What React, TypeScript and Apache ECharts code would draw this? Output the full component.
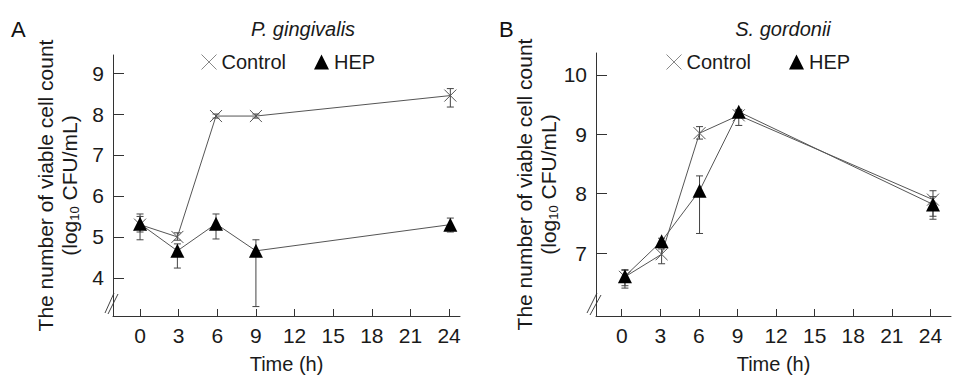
import React, { useEffect, useRef } from "react";
import * as echarts from "echarts";

// ---- data ----
const timeTicks = [0, 3, 6, 9, 12, 15, 18, 21, 24];
const yTicksA = [4, 5, 6, 7, 8, 9];
const yTicksB = [7, 8, 9, 10];

const timesA = [0, 2.9, 5.9, 9, 24.1];
const controlA = [5.3, 5.0, 7.95, 7.95, 8.45];
const controlLowA = [5.12, 4.92, 7.9, 7.9, 8.17];
const controlHighA = [5.5, 5.1, 8.0, 8.0, 8.62];
const hepA = [5.32, 4.66, 5.32, 4.66, 5.3];
const hepLowA = [4.93, 4.24, 4.95, 3.3, 5.12];
const hepHighA = [5.56, 4.83, 5.56, 4.93, 5.46];

const timesB = [0.25, 3.1, 6.05, 9.1, 24.2];
const controlB = [6.6, 6.98, 9.02, 9.32, 7.9];
const controlLowB = [6.45, 6.82, 8.92, 9.15, 7.62];
const controlHighB = [6.72, 7.07, 9.13, 9.4, 8.05];
const hepB = [6.61, 7.2, 8.05, 9.38, 7.82];
const hepLowB = [6.41, 7.1, 7.33, 9.3, 7.57];
const hepHighB = [6.71, 7.25, 8.3, 9.42, 7.95];

const FONT = "'Liberation Sans', Arial, sans-serif";
const CROSS = "path://M0,0L10,10M10,0L0,10";

const pairs = (xs: number[], ys: number[]) => xs.map((x, i) => [x, ys[i]]);
const triples = (xs: number[], lo: number[], hi: number[]) =>
  xs.map((x, i) => [x, lo[i], hi[i]]);

const errRender = (params: any, api: any) => {
  const x = api.value(0);
  const lo = api.coord([x, api.value(1)]);
  const hi = api.coord([x, api.value(2)]);
  const w = 3.5;
  const st = { stroke: "#444", lineWidth: 1 };
  return {
    type: "group",
    children: [
      { type: "line", shape: { x1: lo[0], y1: lo[1], x2: hi[0], y2: hi[1] }, style: st },
      { type: "line", shape: { x1: lo[0] - w, y1: lo[1], x2: lo[0] + w, y2: lo[1] }, style: st },
      { type: "line", shape: { x1: hi[0] - w, y1: hi[1], x2: hi[0] + w, y2: hi[1] }, style: st },
    ],
  };
};

const xAxisFor = (gridIndex: number, min: number, max: number) => ({
  type: "value",
  gridIndex,
  min,
  max,
  name: "Time (h)",
  nameLocation: "middle",
  nameGap: 38,
  nameTextStyle: { fontFamily: FONT, fontSize: 20, color: "#1a1a1a" },
  axisLine: { show: true, onZero: false, lineStyle: { color: "#333", width: 1 } },
  axisTick: { show: true, inside: true, length: 7, customValues: timeTicks, lineStyle: { color: "#333" } },
  axisLabel: { customValues: timeTicks, margin: 9, fontFamily: FONT, fontSize: 21, color: "#1a1a1a" },
  splitLine: { show: false },
});

const yName =
  "{a|The number of viable cell count}\n{a|(log}{s|10}{a| CFU/mL)}";

const yAxisFor = (gridIndex: number, min: number, max: number, ticks: number[]) => ({
  type: "value",
  gridIndex,
  min,
  max,
  name: yName,
  nameLocation: "middle",
  nameRotate: 90,
  nameGap: 32,
  nameTextStyle: {
    fontFamily: FONT,
    color: "#1a1a1a",
    rich: {
      a: { fontFamily: FONT, fontSize: 21, color: "#1a1a1a", lineHeight: 24 },
      s: { fontFamily: FONT, fontSize: 13, color: "#1a1a1a", lineHeight: 24, padding: [10, 0, 0, 0] },
    },
  },
  axisLine: { show: true, onZero: false, lineStyle: { color: "#333", width: 1 } },
  axisTick: { show: true, inside: true, length: 11, customValues: ticks, lineStyle: { color: "#333" } },
  axisLabel: { customValues: ticks, margin: 9, fontFamily: FONT, fontSize: 21, color: "#1a1a1a" },
  splitLine: { show: false },
});

const lineSeries = (name: string, idx: number, data: number[][], isCtrl: boolean) => ({
  name,
  type: "line",
  xAxisIndex: idx,
  yAxisIndex: idx,
  data,
  symbol: isCtrl ? CROSS : "triangle",
  symbolSize: isCtrl ? 12 : 14,
  showSymbol: true,
  lineStyle: { color: "#555", width: 1 },
  itemStyle: isCtrl
    ? { color: "rgba(0,0,0,0)", borderColor: "#555", borderWidth: 1 }
    : { color: "#000", borderColor: "#000", borderWidth: 0 },
  z: isCtrl ? 3 : 4,
});

const errSeries = (idx: number, data: number[][]) => ({
  type: "custom",
  xAxisIndex: idx,
  yAxisIndex: idx,
  data,
  encode: { x: 0, y: [1, 2] },
  renderItem: errRender,
  silent: true,
  z: 2,
});

const legendFor = (left: number, gap: number) => ({
  left,
  top: 47,
  itemWidth: 15,
  itemHeight: 15,
  itemGap: gap,
  textStyle: { fontFamily: FONT, fontSize: 20, color: "#1a1a1a" },
  data: [
    { name: "Control", icon: CROSS, itemStyle: { color: "rgba(0,0,0,0)", borderColor: "#888", borderWidth: 1 } },
    { name: "HEP", icon: "triangle", itemStyle: { color: "#000", borderWidth: 0 } },
  ],
  selectedMode: false,
});

const breakLines = (pts: number[][]) =>
  pts.map((p) => ({
    type: "line",
    shape: { x1: p[0], y1: p[1], x2: p[2], y2: p[3] },
    style: { stroke: "#444", lineWidth: 1 },
  }));

export default function App() {
  const ref = useRef<HTMLDivElement>(null);
  useEffect(() => {
    if (!ref.current) return;
    const chart = echarts.init(ref.current, undefined, { renderer: "svg" });
    chart.setOption({
      animation: false,
      backgroundColor: "#fff",
      title: [
        { text: "A", left: 6, top: 13, textStyle: { fontFamily: FONT, fontSize: 22, fontWeight: "normal", color: "#111" } },
        { text: "B", left: 494, top: 13, textStyle: { fontFamily: FONT, fontSize: 22, fontWeight: "normal", color: "#111" } },
        { text: "P. gingivalis", left: 298, textAlign: "center", top: 14, textStyle: { fontFamily: FONT, fontSize: 20, fontStyle: "italic", fontWeight: "normal", color: "#1a1a1a" } },
        { text: "S. gordonii", left: 778, textAlign: "center", top: 14, textStyle: { fontFamily: FONT, fontSize: 20, fontStyle: "italic", fontWeight: "normal", color: "#1a1a1a" } },
      ],
      legend: [legendFor(196, 28), legendFor(661, 38)],
      grid: [
        { left: 113, right: 510, top: 55, bottom: 66 },
        { left: 596, right: 19, top: 53, bottom: 66 },
      ],
      xAxis: [xAxisFor(0, -2.1, 24.85), xAxisFor(1, -2.0, 25.6)],
      yAxis: [yAxisFor(0, 3.07, 9.44, yTicksA), yAxisFor(1, 5.94, 10.37, yTicksB)],
      series: [
        errSeries(0, triples(timesA, controlLowA, controlHighA)),
        errSeries(0, triples(timesA, hepLowA, hepHighA)),
        lineSeries("Control", 0, pairs(timesA, controlA), true),
        lineSeries("HEP", 0, pairs(timesA, hepA), false),
        errSeries(1, triples(timesB, controlLowB, controlHighB)),
        errSeries(1, triples(timesB, hepLowB, hepHighB)),
        lineSeries("Control", 1, pairs(timesB, controlB), true),
        lineSeries("HEP", 1, pairs(timesB, hepB), false),
      ],
      graphic: breakLines([
        [105, 313, 114, 293],
        [108, 314, 118, 294],
        [587, 313, 597, 293],
        [590, 315, 601, 295],
      ]),
    });
    return () => chart.dispose();
  }, []);
  return (
    <div
      ref={ref}
      style={{ position: "absolute", left: 0, top: 0, width: 970, height: 382 }}
    />
  );
}
